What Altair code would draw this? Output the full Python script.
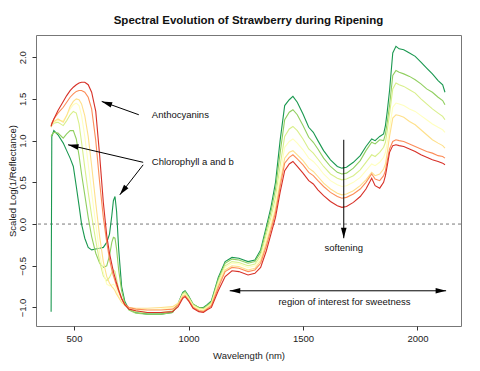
import altair as alt
import pandas as pd

title = "Spectral Evolution of Strawberry during Ripening"

wavelengths = [400, 403, 412, 430, 453, 468, 483, 497, 510, 522, 533, 547, 562, 577, 595, 612, 628, 643, 655, 665,
               672, 679, 686, 695, 708, 722, 740, 770, 820, 880, 930, 955, 975, 985, 1000, 1020, 1045, 1065, 1080,
               1100, 1130, 1160, 1190, 1220, 1260, 1290, 1315, 1340, 1360, 1380, 1400, 1420, 1440, 1456, 1475, 1500,
               1525, 1545, 1565, 1590, 1620, 1650, 1670, 1690, 1720, 1750, 1775, 1800, 1815, 1835, 1852, 1860, 1868,
               1878, 1892, 1906, 1920, 1940, 1965, 1990, 2015, 2040, 2065, 2090, 2110, 2120]

stages = ["Stage 1", "Stage 2", "Stage 3", "Stage 4", "Stage 5", "Stage 6", "Stage 7"]
colors = ["#1a9850", "#91cf60", "#d9ef8b", "#ffffbf", "#fee08b", "#fc8d59", "#d73027"]

s1 = [-1.05, 1.05, 1.12, 1.07, 0.97, 0.88, 0.79, 0.69, 0.45, 0.22, 0.00, -0.17, -0.28, -0.31, -0.30, -0.29, -0.28, -0.22, -0.12, 0.10,
      0.28, 0.33, 0.15, -0.30, -0.75, -0.93, -1.02, -1.06, -1.08, -1.08, -1.06, -0.95, -0.82, -0.80, -0.86, -0.96, -1.00, -1.00, -0.97,
      -0.92, -0.64, -0.45, -0.40, -0.41, -0.45, -0.43, -0.31, -0.03, 0.20, 0.50, 1.00, 1.42, 1.49, 1.53, 1.46, 1.32,
      1.16, 1.10, 1.00, 0.88, 0.77, 0.69, 0.67, 0.68, 0.74, 0.82, 0.93, 1.02, 1.00, 1.05, 1.08, 1.18, 1.35,
      1.60, 2.05, 2.13, 2.10, 2.09, 2.05, 2.01, 1.94, 1.87, 1.80, 1.72, 1.67, 1.58]
s2 = [1.05, 1.07, 1.10, 1.09, 1.03, 1.08, 1.12, 1.12, 1.02, 0.82, 0.60, 0.35, 0.08, -0.15, -0.35, -0.47, -0.52, -0.50, -0.38, -0.22,
      -0.16, -0.17, -0.30, -0.55, -0.80, -0.95, -1.03, -1.07, -1.08, -1.08, -1.06, -0.96, -0.83, -0.81, -0.87, -0.96, -1.00, -1.01, -0.98,
      -0.93, -0.66, -0.47, -0.42, -0.43, -0.47, -0.45, -0.34, -0.07, 0.15, 0.42, 0.85, 1.25, 1.34, 1.37, 1.31, 1.18,
      1.04, 0.98, 0.90, 0.79, 0.69, 0.62, 0.60, 0.61, 0.67, 0.76, 0.88, 0.98, 0.96, 1.01, 1.00, 1.08, 1.22,
      1.42, 1.78, 1.84, 1.82, 1.80, 1.77, 1.73, 1.68, 1.62, 1.58, 1.52, 1.48, 1.43]
s3 = [1.16, 1.18, 1.21, 1.22, 1.18, 1.24, 1.31, 1.35, 1.33, 1.20, 0.98, 0.68, 0.38, 0.10, -0.20, -0.45, -0.62, -0.68, -0.64, -0.58,
      -0.55, -0.57, -0.66, -0.78, -0.90, -0.97, -1.02, -1.05, -1.06, -1.06, -1.04, -0.96, -0.84, -0.82, -0.88, -0.97, -1.01, -1.02, -0.99,
      -0.95, -0.69, -0.50, -0.45, -0.46, -0.50, -0.48, -0.38, -0.12, 0.08, 0.32, 0.70, 1.05, 1.14, 1.17, 1.12, 1.02,
      0.90, 0.85, 0.78, 0.69, 0.60, 0.55, 0.53, 0.54, 0.58, 0.65, 0.74, 0.83, 0.81, 0.86, 0.92, 0.98, 1.12,
      1.32, 1.62, 1.69, 1.67, 1.65, 1.61, 1.57, 1.50, 1.44, 1.38, 1.33, 1.29, 1.25]
s4 = [1.17, 1.19, 1.22, 1.24, 1.24, 1.30, 1.38, 1.43, 1.45, 1.42, 1.30, 1.05, 0.72, 0.38, 0.00, -0.35, -0.58, -0.72, -0.74, -0.73,
      -0.72, -0.74, -0.80, -0.87, -0.94, -0.98, -1.01, -1.03, -1.03, -1.02, -1.00, -0.95, -0.85, -0.84, -0.89, -0.98, -1.02, -1.03, -1.00,
      -0.96, -0.71, -0.52, -0.47, -0.48, -0.52, -0.50, -0.41, -0.17, 0.02, 0.25, 0.60, 0.92, 0.99, 1.02, 0.97, 0.89,
      0.79, 0.75, 0.69, 0.60, 0.52, 0.47, 0.45, 0.46, 0.50, 0.56, 0.64, 0.72, 0.70, 0.74, 0.80, 0.86, 0.98,
      1.15, 1.40, 1.45, 1.44, 1.42, 1.38, 1.35, 1.30, 1.25, 1.20, 1.16, 1.13, 1.10]
s5 = [1.17, 1.20, 1.23, 1.26, 1.22, 1.30, 1.41, 1.47, 1.50, 1.49, 1.44, 1.30, 1.05, 0.70, 0.25, -0.15, -0.45, -0.63, -0.71, -0.75,
      -0.77, -0.80, -0.84, -0.88, -0.94, -0.97, -1.00, -1.01, -1.01, -1.00, -0.99, -0.95, -0.86, -0.85, -0.90, -0.99, -1.03, -1.04, -1.01,
      -0.97, -0.73, -0.55, -0.50, -0.51, -0.55, -0.53, -0.44, -0.22, -0.03, 0.18, 0.50, 0.79, 0.86, 0.88, 0.83, 0.76,
      0.67, 0.63, 0.57, 0.49, 0.42, 0.37, 0.35, 0.36, 0.40, 0.46, 0.53, 0.62, 0.58, 0.60, 0.66, 0.72, 0.86,
      1.05, 1.27, 1.31, 1.30, 1.28, 1.23, 1.19, 1.13, 1.07, 1.01, 0.97, 0.94, 0.91]
s6 = [1.18, 1.21, 1.26, 1.33, 1.40, 1.46, 1.52, 1.56, 1.59, 1.60, 1.60, 1.58, 1.52, 1.38, 1.00, 0.50, 0.08, -0.22, -0.42, -0.55,
      -0.62, -0.68, -0.74, -0.81, -0.90, -0.96, -1.00, -1.02, -1.03, -1.03, -1.02, -0.97, -0.88, -0.86, -0.91, -1.00, -1.04, -1.05, -1.02,
      -0.98, -0.76, -0.57, -0.52, -0.53, -0.57, -0.55, -0.47, -0.26, -0.07, 0.14, 0.45, 0.73, 0.80, 0.83, 0.78, 0.71,
      0.62, 0.58, 0.52, 0.45, 0.38, 0.33, 0.31, 0.32, 0.36, 0.42, 0.50, 0.60, 0.54, 0.52, 0.58, 0.64, 0.76,
      0.90, 0.99, 1.01, 1.00, 0.99, 0.96, 0.93, 0.90, 0.87, 0.85, 0.82, 0.81, 0.79]
s7 = [1.17, 1.20, 1.26, 1.36, 1.47, 1.54, 1.60, 1.64, 1.67, 1.69, 1.70, 1.70, 1.67, 1.58, 1.35, 0.82, 0.26, -0.14, -0.35, -0.48,
      -0.57, -0.64, -0.71, -0.79, -0.89, -0.97, -1.02, -1.04, -1.06, -1.06, -1.05, -0.99, -0.89, -0.87, -0.92, -1.01, -1.05, -1.06, -1.03,
      -1.00, -0.80, -0.63, -0.56, -0.57, -0.61, -0.59, -0.52, -0.32, -0.12, 0.08, 0.38, 0.64, 0.72, 0.75, 0.69, 0.61,
      0.52, 0.48, 0.41, 0.34, 0.27, 0.22, 0.20, 0.21, 0.26, 0.33, 0.42, 0.55, 0.46, 0.43, 0.50, 0.58, 0.70,
      0.86, 0.94, 0.95, 0.94, 0.93, 0.90, 0.87, 0.83, 0.80, 0.77, 0.75, 0.73, 0.71]

series = [s1, s2, s3, s4, s5, s6, s7]

x_ticks = [500, 1000, 1500, 2000]
y_ticks = [-1.0, -0.5, 0.0, 0.5, 1.0, 1.5, 2.0]

# annotations
label_text = ["Anthocyanins", "Chlorophyll a and b"]
label_x = [840, 840]
label_y = [1.31, 0.74]
center_text = ["softening", "region of interest for sweetness"]
center_x = [1678, 1681]
center_y = [-0.29, -0.94]

arrow_x1 = [783, 802, 802, 1678, 1180]
arrow_y1 = [1.31, 0.74, 0.71, 1.01, -0.80]
arrow_x2 = [621, 474, 700, 1678, 2125]
arrow_y2 = [1.47, 0.95, 0.35, -0.17, -0.80]
head_x = [621, 474, 700, 1678, 1180, 2125]
head_y = [1.47, 0.95, 0.35, -0.17, -0.80, -0.80]
head_angle = [289.6, 282.7, 217.8, 180, 270, 90]

rows = []
for order, (name, vals) in enumerate(zip(stages, series)):
    assert len(vals) == len(wavelengths), name
    for w, v in zip(wavelengths, vals):
        rows.append({"wavelength": w, "value": v, "stage": name, "ord": order})
df = pd.DataFrame(rows)

xs = alt.Scale(domain=[334, 2190], nice=False, zero=False)
ys = alt.Scale(domain=[-1.222, 2.266], nice=False, zero=False)

W, H = 425, 291

x_axis = alt.Axis(values=x_ticks, format="d", grid=False, domain=False, tickSize=4, tickColor="#333",
                  labelFontSize=9.5, labelColor="#222", labelPadding=3, title="Wavelength (nm)",
                  titleFontSize=9.5, titleFontWeight="normal", titleColor="#222",
                  titleX=W / 2, titleY=32.5, titleBaseline="alphabetic")
y_axis = alt.Axis(values=y_ticks, format=".1f", grid=False, domain=False, tickSize=4, tickColor="#333",
                  labelFontSize=9.5, labelColor="#222", labelAngle=-90, labelAlign="center",
                  labelBaseline="alphabetic", labelPadding=7,
                  title="Scaled Log(1/Reflectance)", titleFontSize=9.5, titleFontWeight="normal",
                  titleColor="#222", titleX=-21, titleY=H / 2, titleAngle=270,
                  titleAlign="center", titleBaseline="alphabetic")

lines = alt.Chart(df).mark_line(strokeWidth=1.1, clip=True).encode(
    x=alt.X("wavelength:Q", scale=xs, axis=x_axis),
    y=alt.Y("value:Q", scale=ys, axis=y_axis),
    color=alt.Color("stage:N", scale=alt.Scale(domain=stages, range=colors), legend=None),
    order=alt.Order("ord:Q", sort="descending"),
    detail="stage:N",
)

zero = alt.Chart(pd.DataFrame({"y": [0.0]})).mark_rule(
    strokeDash=[3, 3], color="#555", strokeWidth=0.8
).encode(y=alt.Y("y:Q", scale=ys))

arrows_df = pd.DataFrame({"x1": arrow_x1, "y1": arrow_y1, "x2": arrow_x2, "y2": arrow_y2})
shafts = alt.Chart(arrows_df).mark_rule(color="black", strokeWidth=1).encode(
    x=alt.X("x1:Q", scale=xs), y=alt.Y("y1:Q", scale=ys),
    x2="x2:Q", y2="y2:Q")

heads_df = pd.DataFrame({"x": head_x, "y": head_y, "a": head_angle})
heads = alt.Chart(heads_df).mark_point(
    shape="M0,0L-0.4,1.5L0.4,1.5Z", filled=True, size=196, color="black", opacity=1
).encode(x=alt.X("x:Q", scale=xs), y=alt.Y("y:Q", scale=ys), angle=alt.Angle("a:Q", scale=None))

left_labels = alt.Chart(pd.DataFrame({"t": label_text, "x": label_x, "y": label_y})).mark_text(
    align="left", baseline="middle", fontSize=9.5, color="#111"
).encode(x=alt.X("x:Q", scale=xs), y=alt.Y("y:Q", scale=ys), text="t:N")

center_labels = alt.Chart(pd.DataFrame({"t": center_text, "x": center_x, "y": center_y})).mark_text(
    align="center", baseline="middle", fontSize=9.5, color="#111"
).encode(x=alt.X("x:Q", scale=xs), y=alt.Y("y:Q", scale=ys), text="t:N")

chart = alt.layer(zero, lines, shafts, heads, left_labels, center_labels).properties(
    width=W, height=H,
    title=alt.TitleParams(title, fontSize=11.5, fontWeight="bold", anchor="middle", frame="group",
                          baseline="alphabetic", offset=0, color="#111"),
    autosize=alt.AutoSizeParams(type="none"),
    padding={"left": 28, "top": 27, "right": 10, "bottom": 40},
).configure(font="Liberation Sans").configure_view(stroke="#777", strokeWidth=1)

chart.save("out.html", embed_options={"renderer": "svg", "actions": False})
